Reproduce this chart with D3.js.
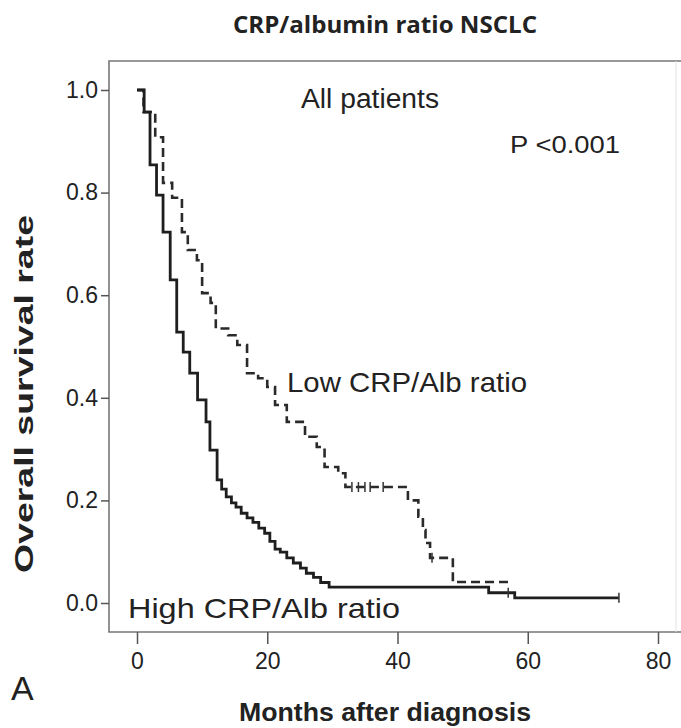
<!DOCTYPE html>
<html>
<head>
<meta charset="utf-8">
<script src="https://cdnjs.cloudflare.com/ajax/libs/d3/7.8.5/d3.min.js"></script>
<style>
  body { margin: 0; background: #fff; }
  text { font-family: "Liberation Sans", Arial, sans-serif; fill: #222; }
</style>
</head>
<body>
<div id="chart"></div>
<script>
// High CRP/Alb ratio (solid line): month of each step and survival after it
const highTime = [0, 1.1, 2.0, 3.0, 4.0, 5.1, 6.1, 7.1, 8.1, 9.3, 10.6, 11.2, 12.3, 13.0, 13.7, 14.5, 15.2, 16.0, 16.9, 17.8, 18.7, 19.6, 20.4, 21.2, 22.0, 23.0, 24.0, 25.1, 26.0, 27.1, 28.2, 29.5, 54.0, 58.0, 74.0]
const highSurv = [1.0, 0.957, 0.854, 0.795, 0.723, 0.63, 0.528, 0.489, 0.448, 0.396, 0.353, 0.298, 0.24, 0.222, 0.207, 0.195, 0.187, 0.175, 0.166, 0.157, 0.146, 0.136, 0.12, 0.105, 0.099, 0.088, 0.078, 0.068, 0.058, 0.05, 0.04, 0.031, 0.02, 0.01, 0.01]
const highCensorTime = [57.0, 74.0]
const highCensorSurv = [0.02, 0.01]

// Low CRP/Alb ratio (dashed line)
const lowTime = [0, 1.0, 2.8, 4.0, 5.4, 6.9, 7.8, 9.2, 10.0, 11.3, 12.1, 14.0, 15.4, 16.9, 18.6, 20.0, 21.2, 23.0, 25.8, 27.6, 28.8, 30.9, 32.0, 41.6, 43.2, 43.9, 44.3, 45.0, 48.5, 57.3]
const lowSurv = [1.0, 0.957, 0.908, 0.819, 0.79, 0.723, 0.688, 0.668, 0.604, 0.585, 0.535, 0.522, 0.503, 0.448, 0.438, 0.421, 0.386, 0.353, 0.324, 0.304, 0.265, 0.253, 0.226, 0.2, 0.168, 0.142, 0.117, 0.088, 0.041, 0.041]
const lowCensorTime = [33.0, 34.0, 35.0, 35.8, 37.8, 45.3]
const lowCensorSurv = [0.226, 0.226, 0.226, 0.226, 0.226, 0.088]

const xTicks = [0, 20, 40, 60, 80]
const yTicks = [0, 0.2, 0.4, 0.6, 0.8, 1.0]

let width = 681
let height = 728
let frameLeft = 109
let frameRight = 676
let frameTop = 61
let frameBottom = 632

let svg = d3.select("#chart")
.append("svg")
.attr("width", width)
.attr("height", height)

svg.append("rect")
.attr("width", width)
.attr("height", height)
.attr("fill", "#fff")

let x = d3.scaleLinear()
.domain([0, 80])
.range([137, 658])

let y = d3.scaleLinear()
.domain([0, 1])
.range([603, 90])

//frame
svg.append("path")
.attr("d", "M" + width + "," + frameTop + "H" + frameLeft + "V" + frameBottom + "H" + width)
.attr("fill", "none")
.attr("stroke", "#777")
.attr("stroke-width", 1.6)

svg.append("line")
.attr("x1", frameRight).attr("x2", frameRight)
.attr("y1", frameTop).attr("y2", frameBottom)
.attr("stroke", "#e4e4e4")
.attr("stroke-width", 1)

//axes
let yAxis = svg.append("g")
.attr("transform", "translate(" + frameLeft + ",0)")
.call(d3.axisLeft(y).tickValues(yTicks).tickFormat(d3.format(".1f")).tickSize(8).tickPadding(3))
yAxis.select(".domain").remove()
yAxis.selectAll("line").attr("stroke", "#555").attr("stroke-width", 1.5)
yAxis.selectAll("text")
.style("font-size", "23px")
.style("font-family", "'Liberation Sans', Arial, sans-serif")
.attr("fill", "#2e2e2e")

let xAxis = svg.append("g")
.attr("transform", "translate(0," + frameBottom + ")")
.call(d3.axisBottom(x).tickValues(xTicks).tickSize(12).tickPadding(9))
xAxis.select(".domain").remove()
xAxis.selectAll("line").attr("stroke", "#555").attr("stroke-width", 1.5)
xAxis.selectAll("text")
.style("font-size", "23px")
.style("font-family", "'Liberation Sans', Arial, sans-serif")
.attr("fill", "#2e2e2e")

//curves
let line = d3.line()
.x(d => x(d[0]))
.y(d => y(d[1]))
.curve(d3.curveStepAfter)

svg.append("path")
.datum(lowTime.map((t, i) => [t, lowSurv[i]]))
.attr("d", line)
.attr("fill", "none")
.attr("stroke", "#2a2a2a")
.attr("stroke-width", 2.6)
.attr("stroke-dasharray", "9,5")

svg.append("path")
.datum(highTime.map((t, i) => [t, highSurv[i]]))
.attr("d", line)
.attr("fill", "none")
.attr("stroke", "#1e1e1e")
.attr("stroke-width", 2.8)

//censor marks
function censor(times, survs){
  svg.selectAll(null)
  .data(times.map((t, i) => [t, survs[i]]))
  .enter()
  .append("line")
  .attr("x1", d => x(d[0]))
  .attr("x2", d => x(d[0]))
  .attr("y1", d => y(d[1]) - 5)
  .attr("y2", d => y(d[1]) + 5)
  .attr("stroke", "#333")
  .attr("stroke-width", 1.5)
}
censor(highCensorTime, highCensorSurv)
censor(lowCensorTime, lowCensorSurv)

//texts
svg.append("text")
.text("CRP/albumin ratio NSCLC")
.attr("x", 385)
.attr("y", 33)
.style("text-anchor", "middle")
.style("font-family", "'Open Sans', sans-serif")
.style("font-weight", "bold")
.style("font-size", "24px")
.attr("textLength", 304)
.attr("lengthAdjust", "spacingAndGlyphs")
.attr("fill", "#000")

svg.append("text")
.text("All patients")
.attr("x", 370)
.attr("y", 108)
.style("text-anchor", "middle")
.style("font-size", "27px")
.attr("textLength", 138)
.attr("lengthAdjust", "spacingAndGlyphs")

svg.append("text")
.text("P <0.001")
.attr("x", 510)
.attr("y", 153)
.style("font-size", "24px")
.attr("textLength", 110)
.attr("lengthAdjust", "spacingAndGlyphs")

svg.append("text")
.text("Low CRP/Alb ratio")
.attr("x", 287)
.attr("y", 392)
.style("font-size", "28px")
.attr("textLength", 240)
.attr("lengthAdjust", "spacingAndGlyphs")

svg.append("text")
.text("High CRP/Alb ratio")
.attr("x", 128)
.attr("y", 618)
.style("font-size", "28px")
.attr("textLength", 272)
.attr("lengthAdjust", "spacingAndGlyphs")

svg.append("text")
.text("Overall survival rate")
.attr("transform", "translate(33,394) rotate(-90)")
.style("text-anchor", "middle")
.style("font-weight", "bold")
.style("font-size", "26px")
.attr("textLength", 358)
.attr("lengthAdjust", "spacingAndGlyphs")

svg.append("text")
.text("Months after diagnosis")
.attr("x", 385)
.attr("y", 721)
.style("text-anchor", "middle")
.style("font-weight", "bold")
.style("font-size", "25px")
.attr("textLength", 292)
.attr("lengthAdjust", "spacingAndGlyphs")

svg.append("text")
.text("A")
.attr("x", 11)
.attr("y", 700)
.style("font-size", "34px")
.attr("fill", "#333")
</script>
</body>
</html>
